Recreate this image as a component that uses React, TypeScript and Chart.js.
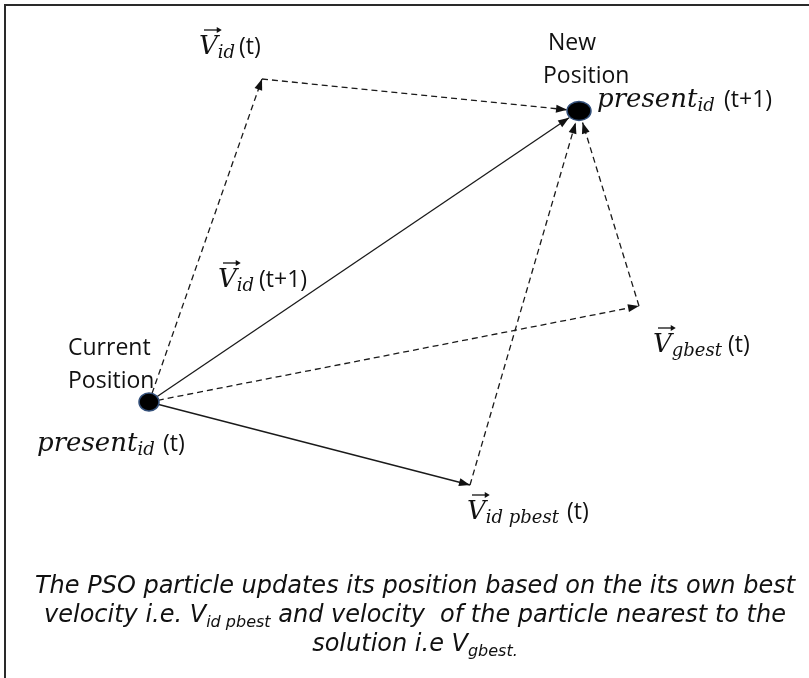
import React, { useEffect, useRef } from "react";
import { Chart, registerables } from "chart.js";

Chart.register(...registerables);

const W = 809;
const H = 678;

// Diagram nodes (diagram units; axes span 0..809 x 0..678, y downward)
const nodeIds = ["current", "vidT", "vgbest", "vpbest", "newPos"];
const nodeX = [149, 262, 639, 470, 579];
const nodeY = [402, 79, 306, 485, 111];

// Vectors (edges) between nodes
const edgeFrom = ["current", "current", "current", "current", "vidT", "vgbest", "vpbest"];
const edgeTo = ["vidT", "newPos", "vgbest", "vpbest", "newPos", "newPos", "newPos"];
const edgeDashed = [true, false, true, false, true, true, true];

// Caption (|...| marks subscript runs)
const captionLines = [
  "The PSO particle updates its position based on the its own best",
  "velocity i.e. V|id pbest| and velocity  of the particle nearest to the",
  "solution i.e V|gbest.|",
];

const MATH = '"DejaVu Serif"';
const SANS = '"Open Sans"';
const CAP = '"DejaVu Sans"';

function idx(id: string) {
  return nodeIds.indexOf(id);
}

function trimmed(i: number) {
  const a = idx(edgeFrom[i]);
  const b = idx(edgeTo[i]);
  const dx = nodeX[b] - nodeX[a];
  const dy = nodeY[b] - nodeY[a];
  const len = Math.hypot(dx, dy);
  const ux = dx / len;
  const uy = dy / len;
  const s = edgeFrom[i] === "current" ? 9 : 0;
  const e = edgeTo[i] === "newPos" ? 12 : 0;
  return [
    { x: nodeX[a] + ux * s, y: nodeY[a] + uy * s },
    { x: nodeX[b] - ux * e, y: nodeY[b] - uy * e },
  ];
}

type Run = { t: string; f: string; dy?: number };

function drawRuns(ctx: CanvasRenderingContext2D, runs: Run[], x: number, y: number, align: "left" | "center") {
  let total = 0;
  for (const r of runs) {
    ctx.font = r.f;
    total += ctx.measureText(r.t).width;
  }
  let cx = align === "center" ? x - total / 2 : x;
  for (const r of runs) {
    ctx.font = r.f;
    ctx.fillText(r.t, cx, y + (r.dy || 0));
    cx += ctx.measureText(r.t).width;
  }
}

function drawVec(ctx: CanvasRenderingContext2D, x: number, base: number, sub: string, suffix: string, sx: number) {
  ctx.font = `italic 26px ${MATH}`;
  ctx.fillText("V", x, base);
  const wV = ctx.measureText("V").width;
  const ay = base - 24;
  ctx.beginPath();
  ctx.moveTo(x + 5, ay);
  ctx.lineTo(x + wV + 2, ay);
  ctx.lineWidth = 1.3;
  ctx.stroke();
  ctx.beginPath();
  ctx.moveTo(x + wV + 4, ay);
  ctx.lineTo(x + wV - 1, ay - 3);
  ctx.lineTo(x + wV - 1, ay + 3);
  ctx.closePath();
  ctx.fill();
  ctx.font = `italic 18px ${MATH}`;
  ctx.fillText(sub, x + wV, base + 4);
  ctx.font = `23px ${SANS}`;
  ctx.fillText(suffix, sx, base);
}

function drawPresent(ctx: CanvasRenderingContext2D, x: number, base: number, suffix: string, sx: number) {
  ctx.font = `italic 26px ${MATH}`;
  ctx.fillText("present", x, base);
  const w = ctx.measureText("present").width;
  ctx.font = `italic 18px ${MATH}`;
  ctx.fillText("id", x + w, base + 4);
  ctx.font = `23px ${SANS}`;
  ctx.fillText(suffix, sx, base);
}

const diagramPlugin = {
  id: "diagram",
  beforeDraw(chart: any) {
    const ctx = chart.ctx;
    ctx.save();
    ctx.fillStyle = "#ffffff";
    ctx.fillRect(0, 0, chart.width, chart.height);
    ctx.restore();
  },
  afterDatasetsDraw(chart: any) {
    const ctx: CanvasRenderingContext2D = chart.ctx;
    const xs = chart.scales.x;
    const ys = chart.scales.y;
    const px = (v: number) => xs.getPixelForValue(v);
    const py = (v: number) => ys.getPixelForValue(v);
    ctx.save();
    ctx.fillStyle = "#111";
    for (let i = 0; i < edgeFrom.length; i++) {
      const [s, e] = trimmed(i);
      const x1 = px(s.x), y1 = py(s.y), x2 = px(e.x), y2 = py(e.y);
      const ang = Math.atan2(y2 - y1, x2 - x1);
      const L = 11, Hw = 4;
      ctx.beginPath();
      ctx.moveTo(x2, y2);
      ctx.lineTo(x2 - L * Math.cos(ang) + Hw * Math.sin(ang), y2 - L * Math.sin(ang) - Hw * Math.cos(ang));
      ctx.lineTo(x2 - L * Math.cos(ang) - Hw * Math.sin(ang), y2 - L * Math.sin(ang) + Hw * Math.cos(ang));
      ctx.closePath();
      ctx.fill();
    }
    const dots: [string, number, number][] = [["current", 10, 9], ["newPos", 12, 9.5]];
    for (const [id, rx, ry] of dots) {
      const k = idx(id);
      ctx.beginPath();
      ctx.ellipse(px(nodeX[k]), py(nodeY[k]), rx, ry, 0, 0, Math.PI * 2);
      ctx.fillStyle = "#000";
      ctx.fill();
      ctx.strokeStyle = "#34507a";
      ctx.lineWidth = 1.5;
      ctx.stroke();
    }
    ctx.strokeStyle = "#2a2a2a";
    ctx.lineWidth = 2;
    ctx.beginPath();
    ctx.moveTo(W, 5);
    ctx.lineTo(5, 5);
    ctx.lineTo(5, H);
    ctx.stroke();

    ctx.fillStyle = "#111";
    ctx.strokeStyle = "#111";
    ctx.textBaseline = "alphabetic";
    ctx.textAlign = "left";
    drawVec(ctx, 199, 54, "id", "(t)", 239);
    drawVec(ctx, 218, 287, "id", "(t+1)", 259);
    drawVec(ctx, 653, 352, "gbest", "(t)", 728);
    drawVec(ctx, 467, 519, "id pbest", "(t)", 567);
    drawPresent(ctx, 597, 107, "(t+1)", 724);
    drawPresent(ctx, 37, 451, "(t)", 163);
    ctx.font = `23px ${SANS}`;
    ctx.fillText("New", 548, 50);
    ctx.fillText("Position", 543, 83);
    ctx.fillText("Current", 68, 355);
    ctx.fillText("Position", 68, 388);

    const big = `italic 24px ${CAP}`;
    const small = `italic 16px ${CAP}`;
    const bases = [593, 622, 651];
    captionLines.forEach((line, i) => {
      const parts = line.split("|");
      const runs: Run[] = parts
        .map((t, j) => ({ t, f: j % 2 === 1 ? small : big, dy: j % 2 === 1 ? 5 : 0 }))
        .filter((r) => r.t.length > 0);
      drawRuns(ctx, runs, 415, bases[i], "center");
    });
    ctx.restore();
  },
};

export default function App() {
  const ref = useRef<HTMLCanvasElement | null>(null);
  useEffect(() => {
    if (!ref.current) return;
    const datasets = edgeFrom.map((_, i) => ({
      data: trimmed(i),
      showLine: true,
      borderColor: "#1a1a1a",
      borderWidth: 1.3,
      borderDash: edgeDashed[i] ? [6, 4] : [],
      pointRadius: 0,
      fill: false,
    }));
    const chart = new Chart(ref.current, {
      type: "scatter",
      data: { datasets },
      options: {
        animation: false,
        responsive: false,
        maintainAspectRatio: false,
        devicePixelRatio: 1,
        layout: { padding: 0 },
        plugins: { legend: { display: false }, tooltip: { enabled: false }, title: { display: false } },
        scales: {
          x: { type: "linear", min: 0, max: W, display: false },
          y: { type: "linear", min: 0, max: H, reverse: true, display: false },
        },
      },
      plugins: [diagramPlugin],
    });
    return () => chart.destroy();
  }, []);
  return (
    <div style={{ position: "absolute", left: 0, top: 0, width: W, height: H, background: "#fff" }}>
      <canvas ref={ref} width={W} height={H} style={{ display: "block", width: W, height: H }} />
    </div>
  );
}
